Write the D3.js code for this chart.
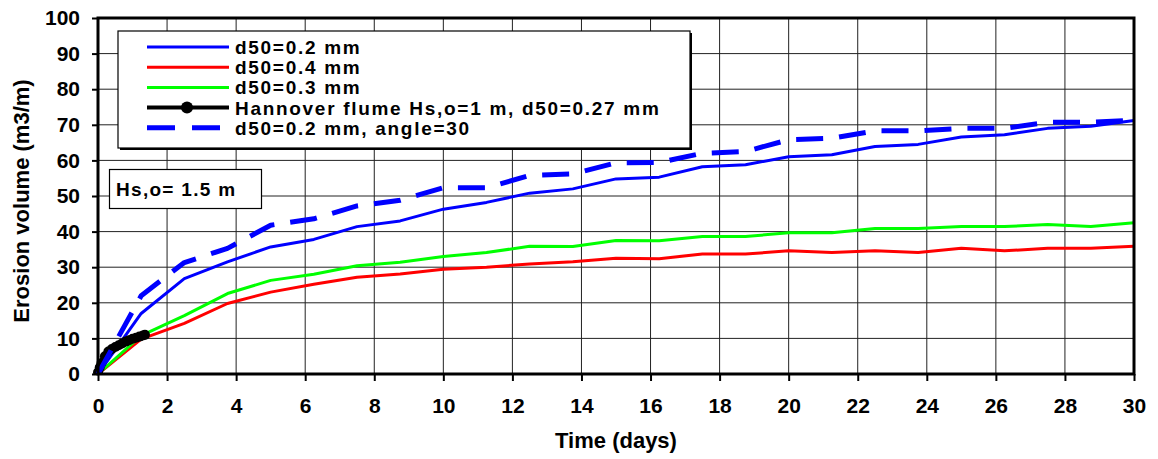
<!DOCTYPE html>
<html><head><meta charset="utf-8">
<script src="https://cdn.jsdelivr.net/npm/d3@7"></script>
<style>
html,body{margin:0;padding:0;background:#fff;}
svg{display:block;font-family:"Liberation Sans",Arial,sans-serif;font-weight:bold;}
</style></head>
<body><svg id="c" width="1158" height="459"></svg>
<script>
// ---- data ----
const timeDays = [0,1.25,2.5,3.75,5,6.25,7.5,8.75,10,11.25,12.5,13.75,15,16.25,17.5,18.75,20,21.25,22.5,23.75,25,26.25,27.5,28.75,30];
const d50_02 = [0,17,26.8,31.5,35.7,37.8,41.4,43.0,46.3,48.2,50.8,52.0,54.8,55.3,58.2,58.8,61.0,61.6,63.9,64.5,66.6,67.2,69.0,69.6,71.2];
const d50_04 = [0,9.8,14.2,19.8,23.0,25.2,27.2,28.1,29.4,30.0,30.9,31.5,32.5,32.4,33.7,33.7,34.6,34.1,34.6,34.1,35.3,34.6,35.3,35.3,35.9];
const d50_03 = [0,10.8,16.4,22.6,26.3,28.0,30.4,31.4,33.0,34.1,35.9,35.8,37.5,37.4,38.6,38.6,39.7,39.7,40.9,40.9,41.4,41.4,42.0,41.4,42.5];
const d50_02_angle30 = [0,22,31.3,35.3,41.8,43.6,47.2,48.8,52.3,52.3,55.8,56.2,59.3,59.4,62.0,62.5,65.8,66.2,68.3,68.3,69.0,69.0,70.7,70.7,71.3];
const hannoverTime = [0,0.05,0.1,0.2,0.3,0.4,0.5,0.6,0.7,0.8,0.9,1.0,1.1,1.2,1.3,1.36];
const hannoverVol  = [0.5,1.8,3.0,5.0,6.3,7.0,7.6,8.1,8.6,9.1,9.5,9.9,10.2,10.5,10.8,11.0];
const seriesNames = ["d50=0.2 mm","d50=0.4 mm","d50=0.3 mm","Hannover flume Hs,o=1 m, d50=0.27 mm","d50=0.2 mm, angle=30"];
const xTicks = d3.range(0,31,2);
const yTicks = d3.range(0,101,10);
const xTitle = "Time (days)";
const yTitle = "Erosion volume (m3/m)";
const noteText = "Hs,o= 1.5 m";

// ---- series table ----
const series = [
  {name:seriesNames[0], x:timeDays, y:d50_02, color:"#0000ff", w:3, dash:null, marker:false},
  {name:seriesNames[1], x:timeDays, y:d50_04, color:"#ff0000", w:3, dash:null, marker:false},
  {name:seriesNames[2], x:timeDays, y:d50_03, color:"#00ff00", w:3, dash:null, marker:false},
  {name:seriesNames[3], x:hannoverTime, y:hannoverVol, color:"#000000", w:7, dash:null, marker:true},
  {name:seriesNames[4], x:timeDays, y:d50_02_angle30, color:"#0000ff", w:5, dash:"27,16", marker:false}
];

const svg = d3.select("#c");
const L=98, R=1134, T=18, B=374;
const x = d3.scaleLinear().domain([0,30]).range([L,R]);
const y = d3.scaleLinear().domain([0,100]).range([B,T]);

// gridlines
const grid = svg.append("g");
grid.selectAll("line.v").data(xTicks).join("line")
  .attr("x1",d=>x(d)).attr("x2",d=>x(d)).attr("y1",T).attr("y2",B)
  .attr("stroke","#222").attr("stroke-width",1);
grid.selectAll("line.h").data(yTicks).join("line")
  .attr("y1",d=>y(d)).attr("y2",d=>y(d)).attr("x1",L).attr("x2",R)
  .attr("stroke","#222").attr("stroke-width",1);

// axes
const xa = svg.append("g").attr("transform",`translate(0,${B})`)
  .call(d3.axisBottom(x).tickValues(xTicks).tickSize(7).tickPadding(17).tickFormat(d3.format("d")));
const ya = svg.append("g").attr("transform",`translate(${L},0)`)
  .call(d3.axisLeft(y).tickValues(yTicks).tickSize(6).tickPadding(12).tickFormat(d3.format("d")));
[xa,ya].forEach(a=>{
  a.select(".domain").remove();
  a.selectAll(".tick line").attr("stroke","#000").attr("stroke-width",2);
  a.selectAll(".tick text").attr("fill","#000").style("font-size","21px")
   .style("font-family","'Liberation Sans',Arial,sans-serif").style("font-weight","bold");
});

// clip
svg.append("clipPath").attr("id","clip").append("rect")
  .attr("x",L-6).attr("y",T-3).attr("width",R-L+9).attr("height",B-T+3);

// lines
const plot = svg.append("g").attr("clip-path","url(#clip)");
series.forEach(s=>{
  const pts = s.x.map((t,i)=>[t,s.y[i]]);
  const line = d3.line().x(d=>x(d[0])).y(d=>y(d[1]));
  plot.append("path").datum(pts).attr("d",line)
    .attr("fill","none").attr("stroke",s.color).attr("stroke-width",s.w)
    .attr("stroke-dasharray",s.dash).attr("stroke-linejoin","round");
  if(s.marker){
    plot.selectAll(null).data(pts).join("circle")
      .attr("cx",d=>x(d[0])).attr("cy",d=>y(d[1])).attr("r",5).attr("fill",s.color);
  }
});

// frame
svg.append("rect").attr("x",L).attr("y",T).attr("width",R-L).attr("height",B-T)
  .attr("fill","none").attr("stroke","#000").attr("stroke-width",3);

// legend
const lg = svg.append("g");
lg.append("rect").attr("x",120).attr("y",33).attr("width",572).attr("height",117).attr("fill","#000");
lg.append("rect").attr("x",118).attr("y",31).attr("width",572).attr("height",117)
  .attr("fill","#fff").attr("stroke","#000").attr("stroke-width",1.2);
series.forEach((s,i)=>{
  const yy = 47 + i*20.2;
  lg.append("line").attr("x1",147).attr("x2",229).attr("y1",yy).attr("y2",yy)
    .attr("stroke",s.color).attr("stroke-width",s.marker?4:(s.dash?5:3)).attr("stroke-dasharray",s.dash?"28,17":null);
  if(s.marker) lg.append("circle").attr("cx",187).attr("cy",yy).attr("r",6).attr("fill",s.color);
  lg.append("text").attr("x",235).attr("y",yy+7).text(s.name)
    .style("font-size","19px").style("letter-spacing","1.7px");
});

// note box
svg.append("rect").attr("x",109.5).attr("y",169.5).attr("width",152).attr("height",39)
  .attr("fill","#fff").attr("stroke","#000").attr("stroke-width",1.2);
svg.append("text").attr("x",116).attr("y",195.5).text(noteText)
  .style("font-size","19px").style("letter-spacing","1.3px");

// axis titles
svg.append("text").attr("x",616).attr("y",448).attr("text-anchor","middle")
  .style("font-size","22px").text(xTitle);
svg.append("text").attr("transform","translate(29,201) rotate(-90)").attr("text-anchor","middle")
  .style("font-size","22px").text(yTitle);
</script></body></html>
